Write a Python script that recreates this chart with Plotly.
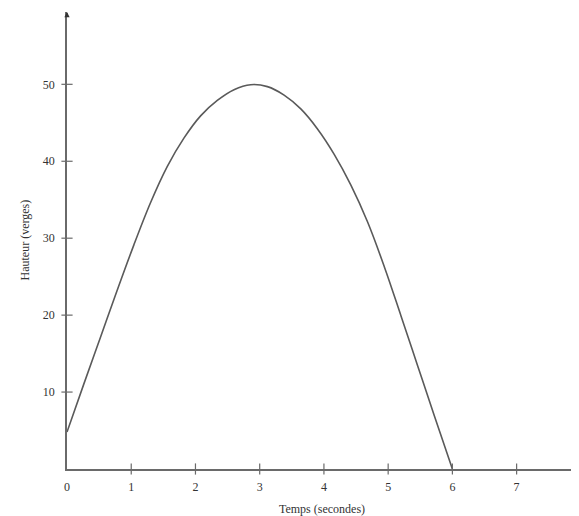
import plotly.graph_objects as go

# Data
temps = [0.0, 0.26, 0.52, 0.78, 1.04, 1.30, 1.56, 1.82, 2.08, 2.34, 2.60, 2.86,
         3.12, 3.38, 3.64, 3.90, 4.16, 4.42, 4.68, 4.94, 5.20, 5.46, 5.72, 6.0]
hauteur = [4.8, 11.0, 17.1, 23.2, 29.1, 34.6, 39.3, 43.0, 45.9, 47.9, 49.3, 49.95,
           49.7, 48.6, 46.8, 44.2, 40.9, 36.9, 32.1, 26.3, 19.9, 13.4, 6.9, 0.0]
x_ticks = [0, 1, 2, 3, 4, 5, 6, 7]
y_ticks = [10, 20, 30, 40, 50]

axis_col = "#6a6a6a"
font = dict(family="Liberation Serif", size=12, color="#333333")

fig = go.Figure()
fig.add_trace(go.Scatter(x=temps, y=hauteur, mode="lines",
                         line=dict(color="#5a5a5a", width=1.6, shape="spline", smoothing=1.0),
                         hoverinfo="skip"))
# crossing tick marks
fig.add_trace(go.Scatter(x=x_ticks[1:], y=[0] * (len(x_ticks) - 1), mode="markers",
                         marker=dict(symbol="line-ns", size=8, line=dict(color=axis_col, width=1.2)),
                         cliponaxis=False, hoverinfo="skip"))
fig.add_trace(go.Scatter(x=[0] * len(y_ticks), y=y_ticks, mode="markers",
                         marker=dict(symbol="line-ew", size=8, line=dict(color=axis_col, width=1.2)),
                         cliponaxis=False, hoverinfo="skip"))

# page body has an 8px margin, so the figure is sized to fill the rest of the window
fig.update_layout(
    width=571, height=508,
    margin=dict(l=59, r=2, t=4, b=47),
    paper_bgcolor="white", plot_bgcolor="white",
    showlegend=False, font=font,
    xaxis=dict(range=[0, 7.94], tickvals=x_ticks, ticktext=[str(v) for v in x_ticks],
               showgrid=False, zeroline=False, showline=True, linecolor=axis_col, linewidth=1.5,
               ticks="", ticklabelstandoff=6, automargin=False,
               title=dict(text="Temps (secondes)", font=font)),
    yaxis=dict(range=[0, 59.4], tickvals=y_ticks, ticktext=[str(v) for v in y_ticks],
               showgrid=False, zeroline=False, showline=True, linecolor=axis_col, linewidth=1.5,
               ticks="", ticklabelstandoff=8, automargin=False),
)
fig.add_annotation(x=0, y=0.5, xref="paper", yref="paper", xshift=-52, text="Hauteur (verges)",
                   textangle=-90, showarrow=False, font=font)
# axis arrowheads
fig.add_annotation(x=1, y=0, xref="paper", yref="paper", ax=-5, ay=0, text="",
                   showarrow=True, arrowhead=2, arrowsize=0.7, arrowwidth=1.5, arrowcolor="#333333")
fig.add_annotation(x=0, y=1, xref="paper", yref="paper", ax=0, ay=5, text="",
                   showarrow=True, arrowhead=2, arrowsize=0.7, arrowwidth=1.5, arrowcolor="#333333")

fig.write_html("out.html")
